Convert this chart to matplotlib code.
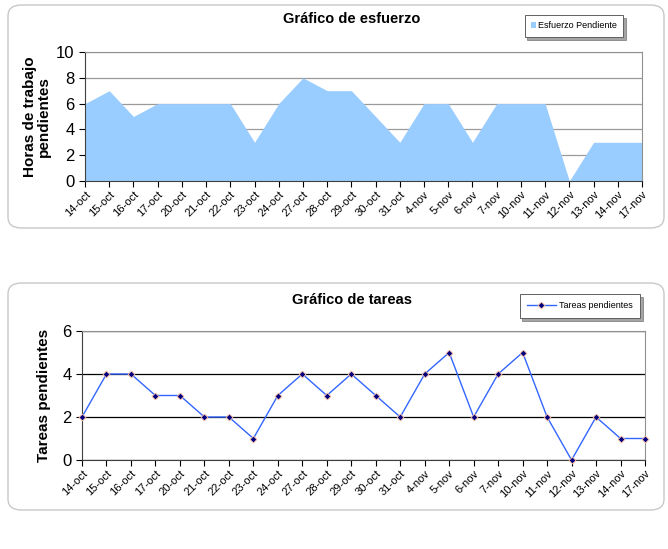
import matplotlib
matplotlib.use("Agg")
import matplotlib.pyplot as plt
from matplotlib.patches import FancyBboxPatch

plt.rcParams['font.family'] = ['Liberation Sans', 'DejaVu Sans']

# Data
fechas = ['14-oct', '15-oct', '16-oct', '17-oct', '20-oct', '21-oct', '22-oct',
          '23-oct', '24-oct', '27-oct', '28-oct', '29-oct', '30-oct', '31-oct',
          '4-nov', '5-nov', '6-nov', '7-nov', '10-nov', '11-nov', '12-nov',
          '13-nov', '14-nov', '17-nov']
esfuerzo = [6, 7, 5, 6, 6, 6, 6, 3, 6, 8, 7, 7, 5, 3, 6, 6, 3, 6, 6, 6, 0, 3, 3, 3]
tareas = [2, 4, 4, 3, 3, 2, 2, 1, 3, 4, 3, 4, 3, 2, 4, 5, 2, 4, 5, 2, 0, 2, 1, 1]

x = list(range(len(fechas)))

fig = plt.figure(figsize=(6.68, 5.49), dpi=100)

# rounded chart frames (behind the axes)
for (y0, h) in [(1 - 228 / 549, 223 / 549), (1 - 510 / 549, 227 / 549)]:
    box = FancyBboxPatch((8 / 668, y0), 656 / 668, h,
                         boxstyle="round,pad=0,rounding_size=0.02",
                         transform=fig.transFigure, facecolor='none',
                         edgecolor='#c8c8c8', linewidth=1.0, zorder=-5)
    fig.patches.append(box)


def style_axes(ax, ymax, step, gridcolor):
    ax.set_facecolor('none')
    ax.set_xlim(0, len(fechas) - 1)
    ax.set_ylim(0, ymax)
    ax.set_yticks(range(0, ymax + 1, step))
    ax.set_xticks(x)
    ax.set_xticklabels(fechas, rotation=45, ha='right', rotation_mode='anchor',
                       fontsize=8)
    ax.tick_params(axis='y', labelsize=12, length=4, width=0.8)
    ax.tick_params(axis='x', length=4, width=0.8, pad=2)
    ax.yaxis.grid(True, color=gridcolor, linewidth=0.9)
    ax.set_axisbelow(True)
    for s in ['top', 'right']:
        ax.spines[s].set_color('#909090')
    for s in ['left', 'bottom']:
        ax.spines[s].set_color('#404040')


def style_legend(leg):
    leg.get_frame().set_edgecolor('#606060')
    leg.get_frame().set_linewidth(0.7)


# Effort chart
ax1 = fig.add_axes([85 / 668, 1 - 181 / 549, 557 / 668, 129 / 549])
ax1.fill_between(x, esfuerzo, 0, color='#99CCFF', linewidth=0,
                 label='Esfuerzo Pendiente', zorder=2)
style_axes(ax1, 10, 2, '#9a9a9a')
ax1.set_ylabel('Horas de trabajo\npendientes', fontsize=11, fontweight='bold',
               labelpad=4, linespacing=0.95)
fig.text(352 / 668, 1 - 19 / 549, 'Gráfico de esfuerzo', ha='center',
         va='center', fontsize=10.5, fontweight='bold')
leg1 = ax1.legend(loc='center', bbox_to_anchor=((574 - 85) / 557, (181 - 26) / 129),
                  fontsize=6.5, frameon=True, fancybox=False, shadow=True,
                  handlelength=0.6, handleheight=0.6, handletextpad=0.2,
                  borderpad=0.7, borderaxespad=0)
style_legend(leg1)

# Task chart
ax2 = fig.add_axes([82 / 668, 1 - 460 / 549, 563 / 668, 129 / 549])
ax2.plot(x, tareas, color='#3366FF', linewidth=1.0, marker='D', markersize=3.5,
         markerfacecolor='#000080', markeredgecolor='#ffc0a0',
         markeredgewidth=0.6, label='Tareas pendientes', zorder=3,
         clip_on=False)
style_axes(ax2, 6, 2, '#000000')
ax2.set_ylabel('Tareas pendientes', fontsize=11, fontweight='bold', labelpad=8)
fig.text(352 / 668, 1 - 300 / 549, 'Gráfico de tareas', ha='center',
         va='center', fontsize=10.5, fontweight='bold')
leg2 = ax2.legend(loc='center', bbox_to_anchor=((580 - 82) / 563, (460 - 306) / 129),
                  fontsize=6.5, frameon=True, fancybox=False, shadow=True,
                  handlelength=3.2, handletextpad=0.4, borderpad=0.8,
                  borderaxespad=0)
style_legend(leg2)

fig.savefig('out.png', dpi=100)
